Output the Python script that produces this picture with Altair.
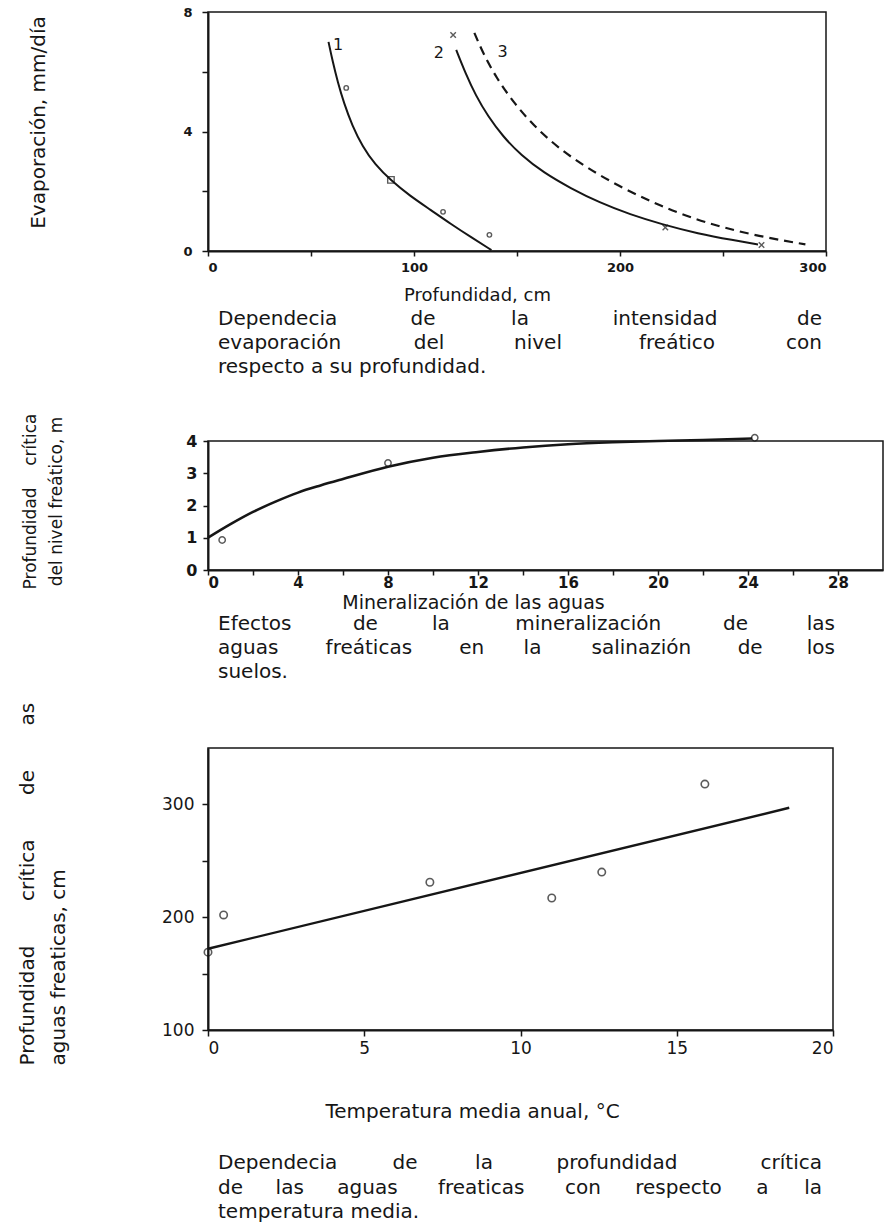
import altair as alt
import pandas as pd

FONT = "DejaVu Sans"
INK = "#161616"
NB = "\u00a0"

# ---------------- Panel 1 : evaporation vs depth ----------------
c1_x = [58.5, 60.5, 63.0, 66.0, 70.0, 75.0, 81.0, 89.0, 98.0, 108.0, 118.0, 128.0, 137.6]
c1_y = [7.0, 6.35, 5.65, 4.95, 4.2, 3.5, 2.9, 2.35, 1.85, 1.38, 0.90, 0.45, 0.03]
c2_x = [120.5, 125, 130, 136, 143, 152, 163, 176, 190, 205, 220, 238, 255, 267]
c2_y = [6.73, 5.95, 5.2, 4.5, 3.85, 3.2, 2.62, 2.1, 1.62, 1.22, 0.9, 0.58, 0.36, 0.22]
c3_x = [129.3, 134, 140, 148, 158, 170, 184, 200, 216, 232, 250, 270, 290]
c3_y = [7.3, 6.55, 5.8, 5.0, 4.2, 3.45, 2.78, 2.15, 1.62, 1.17, 0.78, 0.46, 0.22]
m1_circ_x = [67.1, 114.1, 136.6]
m1_circ_y = [5.46, 1.31, 0.54]
m1_sq_x = [88.8]
m1_sq_y = [2.38]
m2_x_x = [119.0, 222.0, 268.7]
m2_x_y = [7.23, 0.79, 0.20]
lab1_text = ["1", "2", "3"]
lab1_x = [63.1, 112.0, 143.0]
lab1_y = [6.90, 6.63, 6.66]

# ---------------- Panel 2 : mineralisation ----------------
c4_x = [0, 1, 2, 3, 4, 5, 6, 8, 10, 12, 14, 16, 18, 20, 22, 24.2]
c4_y = [1.0, 1.42, 1.8, 2.12, 2.4, 2.62, 2.82, 3.2, 3.48, 3.66, 3.8, 3.9, 3.96, 4.0, 4.03, 4.08]
m4_x = [0.63, 8.0, 24.3]
m4_y = [0.93, 3.32, 4.10]

# ---------------- Panel 3 : temperature ----------------
p3_x = [0.0, 0.5, 7.1, 11.0, 12.6, 15.9]
p3_y = [169, 202, 231, 217, 240, 318]
fit_x = [0.0, 18.6]
fit_y = [172, 297]

cap1 = ["Dependecia de la intensidad de",
        "evaporación del nivel freático con",
        "respecto a su profundidad."]
cap2 = ["Efectos de la mineralización de las",
        "aguas freáticas en la salinazión de los",
        "suelos."]
cap3 = ["Dependecia de la profundidad crítica",
        "de las aguas freaticas con respecto a la",
        "temperatura media."]


def ax(**kw):
    base = dict(domainColor=INK, domainWidth=2, tickColor=INK, tickWidth=1.5,
                labelColor=INK, titleColor=INK, labelFont=FONT, titleFont=FONT,
                grid=False, titleFontWeight="normal")
    base.update(kw)
    return alt.Axis(**base)


def df_xy(xs, ys, **extra):
    d = pd.DataFrame({"x": xs, "y": ys})
    for k, v in extra.items():
        d[k] = v
    return d


# ---- panel 1 ----
X1 = alt.X("x:Q", scale=alt.Scale(domain=[0, 300], nice=False, zero=False),
           axis=ax(values=list(range(0, 301, 50)),
                   labelExpr="datum.value % 100 == 0 ? datum.label : ''",
                   tickSize=5, labelPadding=5, labelFontSize=13, labelFontWeight="bold",
                   title="Profundidad, cm", titleFontSize=18, titleX=269, titleY=44,
                   titleAlign="center", titleBaseline="middle"))
Y1 = alt.Y("y:Q", scale=alt.Scale(domain=[0, 8], nice=False),
           axis=ax(values=[0, 2, 4, 6, 8],
                   labelExpr="datum.value % 4 == 0 ? datum.label : ''",
                   tickSize=6, labelPadding=10, labelFontSize=13, labelFontWeight="bold",
                   title="Evaporación, mm/día", titleFontSize=20, titleAngle=270,
                   titleX=-170, titleY=110, titleAlign="center", titleBaseline="middle"))

solid = pd.concat([df_xy(c1_x, c1_y, c="1"), df_xy(c2_x, c2_y, c="2")])
l_solid = alt.Chart(solid).mark_line(color=INK, strokeWidth=2, interpolate="basis").encode(
    x=X1, y=Y1, detail="c:N")
l_dash = alt.Chart(df_xy(c3_x, c3_y)).mark_line(
    color=INK, strokeWidth=2.2, strokeDash=[9, 6], interpolate="basis").encode(x=X1, y=Y1)
pts_c = alt.Chart(df_xy(m1_circ_x, m1_circ_y)).mark_point(
    shape="circle", filled=False, size=20, strokeWidth=1.4, color=INK).encode(x=X1, y=Y1)
pts_s = alt.Chart(df_xy(m1_sq_x, m1_sq_y)).mark_point(
    shape="square", filled=False, size=42, strokeWidth=1.4, color=INK).encode(x=X1, y=Y1)
pts_x = alt.Chart(df_xy(m2_x_x, m2_x_y)).mark_point(
    shape="M-1,-1L1,1M-1,1L1,-1", filled=False, size=30, strokeWidth=1.4, color=INK).encode(x=X1, y=Y1)
labs = alt.Chart(pd.DataFrame({"x": lab1_x, "y": lab1_y, "t": lab1_text})).mark_text(
    font=FONT, fontSize=16, color=INK).encode(x=X1, y=Y1, text="t:N")
panel1 = alt.layer(l_solid, l_dash, pts_c, pts_s, pts_x, labs).properties(width=618, height=239)

# ---- panel 2 ----
X2 = alt.X("x:Q", scale=alt.Scale(domain=[0, 30], nice=False, zero=False),
           axis=ax(values=list(range(0, 29, 2)),
                   labelExpr="datum.value % 4 == 0 ? datum.label : ''",
                   tickSize=5, labelPadding=0, labelFontSize=15, labelFontWeight="bold",
                   title="Mineralización de las aguas", titleFontSize=19, titleX=265, titleY=32,
                   titleAlign="center", titleBaseline="middle"))
Y2 = alt.Y("y:Q", scale=alt.Scale(domain=[0, 4], nice=False),
           axis=ax(values=[0, 1, 2, 3, 4], tickSize=5, labelPadding=6, labelFontSize=16,
                   labelFontWeight="bold",
                   title=["Profundidad" + NB * 4 + "crítica", "del nivel freático, m"],
                   titleFontSize=17, titleAngle=270, titleLineHeight=26,
                   titleX=-178, titleY=60, titleAlign="center", titleBaseline="middle"))
l4 = alt.Chart(df_xy(c4_x, c4_y)).mark_line(color=INK, strokeWidth=2.6, interpolate="monotone").encode(x=X2, y=Y2)
p4 = alt.Chart(df_xy(m4_x, m4_y)).mark_point(
    shape="circle", filled=True, fill="white", size=40, strokeWidth=1.5, color=INK, stroke=INK).encode(x=X2, y=Y2)
panel2 = alt.layer(l4, p4).properties(width=675, height=129)

# ---- panel 3 ----
X3 = alt.X("x:Q", scale=alt.Scale(domain=[0, 20], nice=False, zero=False),
           axis=ax(values=[0, 5, 10, 15, 20], tickSize=6, labelPadding=4, labelFontSize=17,
                   title="Temperatura media anual, °C", titleFontSize=20, titleX=264, titleY=81,
                   titleAlign="center", titleBaseline="middle"))
Y3 = alt.Y("y:Q", scale=alt.Scale(domain=[100, 350], nice=False, zero=False),
           axis=ax(values=[100, 150, 200, 250, 300],
                   labelExpr="datum.value % 100 == 0 ? datum.label : ''",
                   tickSize=6, labelPadding=8, labelFontSize=17,
                   title=["Profundidad" + NB * 7 + "crítica" + NB * 7 + "de" + NB * 7 + "as",
                          "aguas freaticas, cm"],
                   titleFontSize=20, titleAngle=270, titleLineHeight=31,
                   titleX=-181, titleY=317, titleAlign="left", titleBaseline="middle"))
l5 = alt.Chart(df_xy(fit_x, fit_y)).mark_line(color=INK, strokeWidth=2.4).encode(x=X3, y=Y3)
p5 = alt.Chart(df_xy(p3_x, p3_y)).mark_point(
    shape="circle", filled=False, size=55, strokeWidth=1.6, color=INK).encode(x=X3, y=Y3)
panel3 = alt.layer(l5, p5).properties(width=625, height=282)


# ---- captions (justified text blocks) ----
def caption(lines, width, top, lh, left=10, fs=20, k=0.6, justify_last=False, h=190):
    rows = []
    for li, line in enumerate(lines):
        y = top + li * lh
        words = line.split()
        last = li == len(lines) - 1
        if (last and not justify_last) or len(words) == 1:
            rows.append({"t": line, "x": left, "y": y, "a": "left"})
            continue
        w = [len(wd) * k * fs for wd in words]
        gap = (width - sum(w)) / (len(words) - 1)
        cur = left
        for i, wd in enumerate(words):
            if i == 0:
                rows.append({"t": wd, "x": left, "y": y, "a": "left"})
            elif i == len(words) - 1:
                rows.append({"t": wd, "x": left + width, "y": y, "a": "right"})
            else:
                rows.append({"t": wd, "x": cur + w[i] / 2, "y": y, "a": "center"})
            cur += w[i] + gap
    d = pd.DataFrame(rows)
    base = alt.Chart(d)
    layers = []
    for a in ["left", "center", "right"]:
        layers.append(base.transform_filter(alt.datum.a == a).mark_text(
            align=a, baseline="middle", font=FONT, fontSize=fs, color=INK).encode(
            x=alt.X("x:Q", scale=None), y=alt.Y("y:Q", scale=None), text="t:N"))
    return alt.layer(*layers).properties(width=620, height=h, view=alt.ViewBackground(stroke=None))


capc1 = caption(cap1, 604, 68, 24, h=190)
capc2 = caption(cap2, 617, 54, 24, h=178)
capc3 = caption(cap3, 604, 133, 24.5, h=195)

chart = alt.vconcat(panel1, capc1, panel2, capc2, panel3, capc3, spacing=0, bounds="flush").properties(
    autosize=alt.AutoSizeParams(type="none"),
    padding={"left": 208, "top": 12, "right": 886 - 208, "bottom": 1230 - 12},
    background="white",
).configure_view(stroke=INK, strokeWidth=1.5)

chart.save("out.html", embed_options={"renderer": "svg", "actions": False})
